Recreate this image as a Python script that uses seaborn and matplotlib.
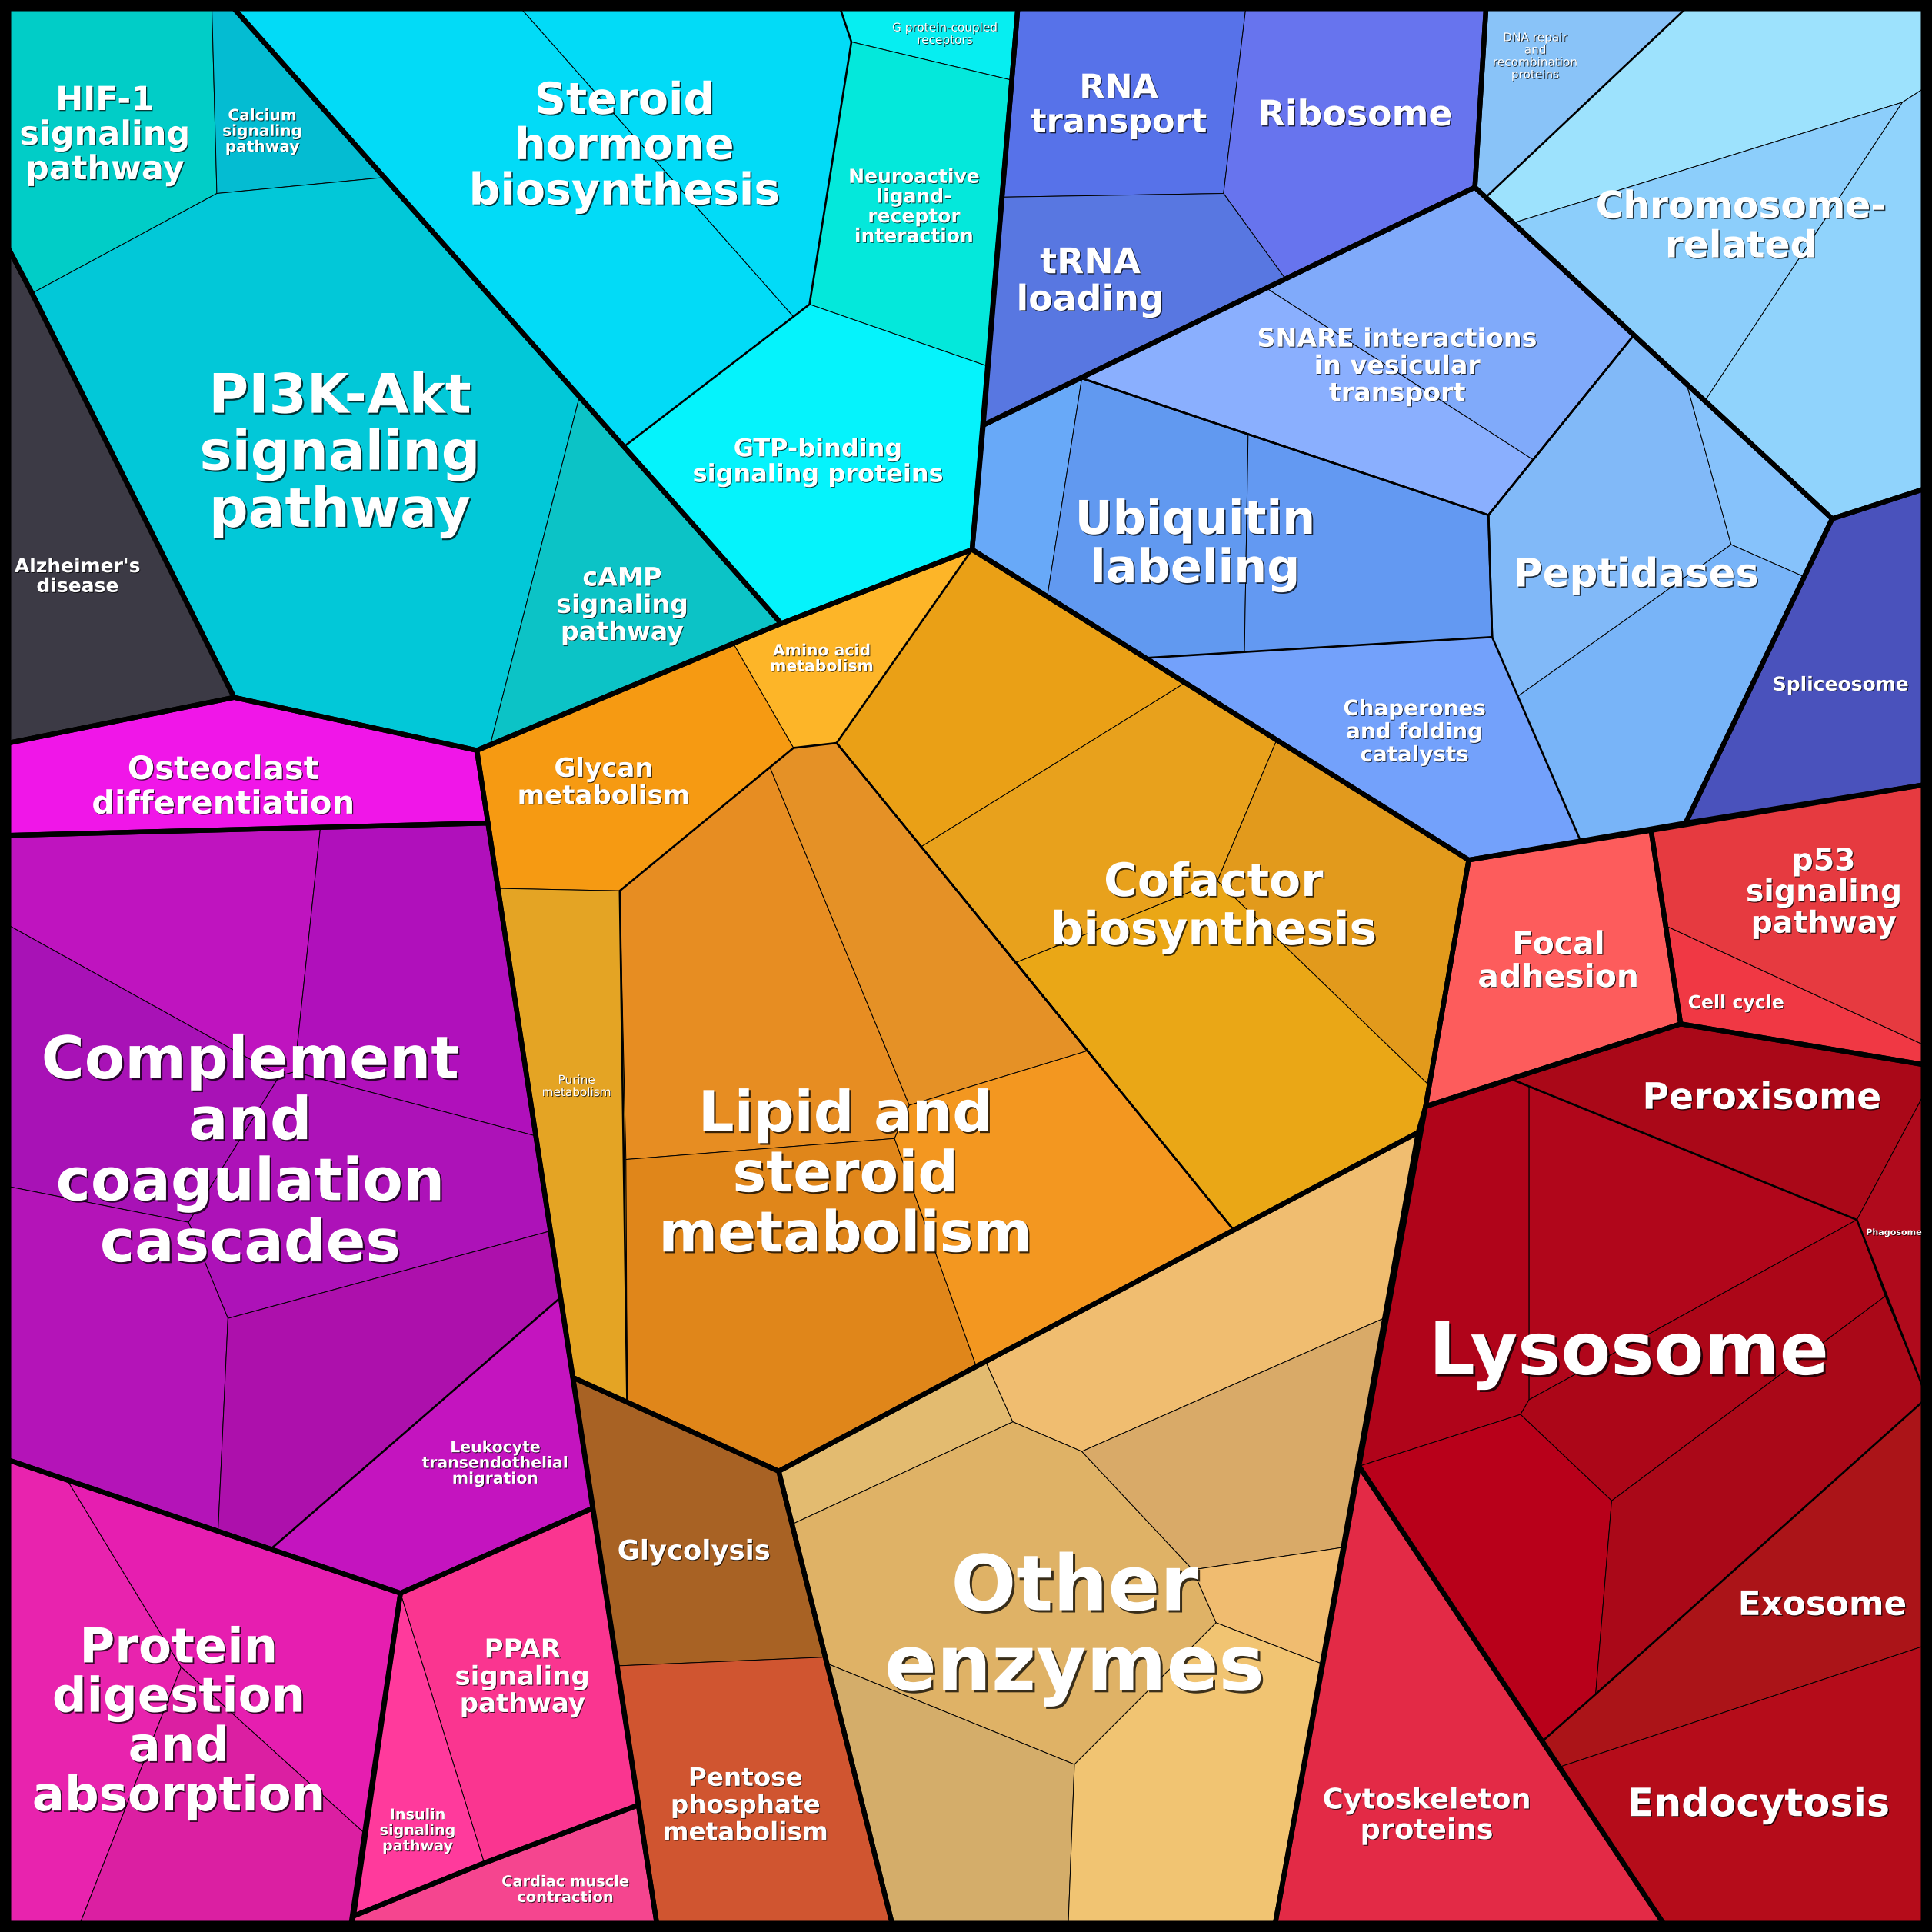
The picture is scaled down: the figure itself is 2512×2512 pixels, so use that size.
import pandas as pd
import seaborn as sns
from matplotlib import pyplot as plt
from matplotlib import patheffects as pe

# corner points of the voronoi cells, in px of a 1568 px square, y pointing down
points = {
    'TL': (7, 7), 'TR': (1561, 7), 'BR': (1561, 1561), 'BL': (7, 1561),
    'A1': (172, 7), 'A2': (190, 7), 'A3': (176, 157), 'A4': (312, 144), 'A5': (7, 202),
    'A6': (26, 238), 'A7': (190, 566), 'A8': (7, 603), 'A9': (387, 609), 'A10': (398, 604),
    'A11': (470, 323), 'A12': (634, 506),
    'S1': (423, 7), 'S2': (682, 7), 'S3': (691, 34), 'S4': (821, 65), 'S5': (657, 247),
    'S6': (801, 297), 'S7': (507, 362), 'S8': (644, 257), 'S9': (826, 7), 'S10': (789, 446),
    'B2': (1011, 7), 'B3': (993, 157), 'B4': (813, 160), 'B5': (1043, 226), 'B6': (1206, 7),
    'B7': (1197, 152), 'B8': (798, 345), 'B9': (1326, 272), 'B10': (1208, 418), 'B12': (878, 307),
    'B13': (929, 534), 'B14': (850, 484), 'B15': (1013, 352), 'B16': (1010, 529), 'B17': (1283, 683),
    'B18': (1487, 421), 'B19': (1368, 668), 'B20': (1211, 517), 'B21': (1192, 698), 'B22': (1368, 7),
    'B23': (1206, 160), 'B24': (1561, 397), 'B25': (1561, 637),
    'N1': (1028, 234), 'N2': (1244, 373),
    'P1': (1369, 312), 'P2': (1405, 442), 'P3': (1464, 468), 'P4': (1232, 565),
    'H1': (1228, 181), 'H2': (1544, 83), 'H3': (1561, 72), 'H4': (1384, 325),
    'O1': (595, 522), 'O2': (644, 607), 'O3': (679, 603), 'O4': (503, 723), 'O5': (404, 721),
    'O6': (509, 1137), 'O7': (465, 1118), 'O8': (632, 1194), 'O9': (1001, 998), 'O10': (1151, 919),
    'O11': (1157, 898),
    'L1': (625, 623), 'L2': (738, 897), 'L3': (882, 853), 'L4': (726, 924), 'L5': (792, 1108),
    'L6': (508, 941),
    'C1': (962, 554), 'C2': (748, 687), 'C3': (1036, 601), 'C4': (988, 715), 'C5': (825, 781),
    'C6': (1160, 881),
    'G1': (501, 1352), 'G2': (669, 1345), 'G3': (724, 1561), 'G4': (533, 1561),
    'E1': (800, 1105), 'E2': (822, 1154), 'E3': (643, 1237), 'E4': (878, 1178), 'E5': (1123, 1070),
    'E6': (968, 1274), 'E7': (1089, 1256), 'E8': (987, 1317), 'E9': (1072, 1350), 'E10': (872, 1432),
    'E11': (867, 1561), 'E12': (671, 1350), 'E13': (1035, 1561),
    'R1': (1103, 1190), 'R2': (1340, 674), 'R3': (1364, 831), 'R4': (1353, 752), 'R5': (1561, 848),
    'R6': (1561, 864), 'R7': (1227, 876), 'R8': (1561, 889), 'R9': (1507, 990), 'R10': (1561, 1127),
    'R11': (1561, 1137), 'R12': (1561, 1336), 'R13': (1266, 1434), 'R14': (1350, 1561),
    'R15': (1252, 1413), 'R16': (1295, 1375),
    'Y1': (1241, 882), 'Y2': (1241, 1136), 'Y3': (1234, 1148), 'Y4': (1308, 1218), 'Y5': (1530, 1052),
    'K1': (396, 668), 'K2': (7, 678), 'K3': (260, 672), 'K4': (239, 870), 'K5': (227, 873),
    'K6': (7, 751), 'K7': (435, 922), 'K8': (153, 992), 'K9': (7, 963), 'K10': (185, 1070),
    'K11': (447, 999), 'K12': (455, 1053), 'K13': (177, 1242), 'K14': (220, 1257), 'K15': (7, 1185),
    'K16': (325, 1293), 'K17': (481, 1224), 'K18': (518, 1465), 'K19': (393, 1512), 'K20': (287, 1555),
    'K21': (285, 1561),
    'D1': (55, 1202), 'D2': (147, 1353), 'D3': (296, 1488), 'D4': (65, 1561),
}

# smallest cells (fill colour + corners)
cell_names = [
    'hif', 'calcium', 'pi3k', 'camp', 'alzheimer',
    'steroid_a', 'steroid_b', 'gpcr', 'neuro', 'gtp',
    'rna', 'ribosome', 'trna', 'dna', 'chrom_a', 'chrom_b', 'chrom_c',
    'snare_a', 'snare_b', 'ubi_a', 'ubi_b', 'ubi_c', 'chaperones',
    'pep_a', 'pep_b', 'pep_c', 'spliceosome',
    'amino', 'glycan', 'purine', 'lipid_a', 'lipid_b', 'lipid_c', 'lipid_d',
    'cof_a', 'cof_b', 'cof_c', 'cof_d',
    'glycolysis', 'pentose', 'oe_a', 'oe_b', 'oe_c', 'oe_d', 'oe_e', 'oe_f', 'oe_g',
    'focal', 'p53', 'cellcycle', 'peroxisome', 'phagosome',
    'lys_a', 'lys_b', 'lys_c', 'lys_d', 'lys_e', 'exosome', 'endocytosis', 'cytoskeleton',
    'osteoclast', 'comp_a', 'comp_b', 'comp_c', 'comp_d', 'comp_e', 'comp_f', 'leukocyte',
    'prot_a', 'prot_b', 'prot_c', 'ppar', 'insulin', 'cardiac',
]
cell_colors = [
    '#01cdc7', '#04bcd2', '#02c8d8', '#0cc3c6', '#3c3a45',
    '#02dbf7', '#02dbf7', '#06eef1', '#04e8db', '#05f3fc',
    '#5772e9', '#6774ee', '#5877e1', '#89c3f8', '#9de2fd', '#8ccefb', '#90d3fc',
    '#80aafa', '#8aaffe', '#68a9f8', '#6199f0', '#6399f2', '#73a1fb',
    '#81b9f8', '#86c2fb', '#78b4f8', '#4a52bc',
    '#fdb528', '#f69a12', '#e4a424', '#e78d22', '#e59126', '#e0861a', '#f39720',
    '#eaa016', '#e8a11c', '#e29a1c', '#eaa716',
    '#a86224', '#d05530', '#e3bb70', '#f0bd70', '#dfb266', '#d9aa68', '#f0bc70', '#d4ad6a', '#f1c472',
    '#fd5c5c', '#e63a40', '#f03844', '#aa0818', '#b00a1c',
    '#b0041a', '#b1061b', '#ac0618', '#b8001a', '#aa0818', '#ab1418', '#b50c1a', '#e32a46',
    '#f016e8', '#bf14bf', '#b010bb', '#a812b6', '#ad12b8', '#b414b8', '#ad10ac', '#c414bf',
    '#e823ae', '#e61eb0', '#db1fa2', '#fa3590', '#ff3a9c', '#f5458f',
]
cell_corners = [
    'TL A1 A3 A6 A5', 'A1 A2 A4 A3', 'A3 A4 A11 A10 A9 A7 A6', 'A11 A12 A10', 'A5 A6 A7 A8',
    'A2 S1 S8 S7', 'S1 S2 S3 S5 S8', 'S2 S9 S4 S3', 'S3 S4 S6 S5', 'S5 S6 S10 A12 S7',
    'S9 B2 B3 B4', 'B2 B6 B7 B5 B3', 'B4 B3 B5 B8', 'B6 B22 B23 B7',
    'B22 TR H3 H2 H1 B23', 'H1 H2 H4 B9', 'H2 H3 B24 B18 H4',
    'N1 B7 B9 N2', 'B12 N1 N2 B10', 'B8 B12 B14 S10', 'B12 B15 B16 B13 B14', 'B15 B10 B20 B16',
    'B13 B20 B17 B21',
    'B10 B9 P1 P2 P4 B20', 'P1 B18 P3 P2', 'P2 P3 B19 B17 P4', 'B18 B24 B25 B19',
    'O1 A12 S10 O3 O2', 'A9 O1 O2 O4 O5', 'O5 O4 L6 O6 O7', 'O4 L1 L2 L4 L6', 'L1 O2 O3 L3 L2',
    'L6 L4 L5 O8 O6', 'L4 L2 L3 O9 L5',
    'S10 C1 C2 O3', 'C1 C3 C4 C5 C2', 'C3 B21 C6 C4', 'C5 C4 C6 O11 O10 O9',
    'O7 O8 G2 G1', 'G1 G2 G3 G4', 'O8 E1 E2 E3', 'E1 O10 E5 E4 E2', 'E3 E2 E4 E6 E8 E10 E12',
    'E4 E5 E7 E6', 'E6 E7 E9 E8', 'E12 E10 E11 G3', 'E10 E8 E9 E13 E11',
    'B21 R2 R3 R7 O11', 'R2 B25 R5 R4', 'R4 R5 R6 R3', 'R7 R3 R6 R8 R9', 'R9 R8 R10',
    'O11 R7 Y1 Y2 Y3 R1', 'Y1 R9 Y2', 'Y2 R9 Y5 Y4 Y3', 'R1 Y3 Y4 R16 R15', 'Y4 Y5 R10 R11 R16',
    'R11 R12 R13 R15 R16', 'R13 R12 BR R14', 'R1 R14 E13',
    'A8 A7 A9 K1 K2', 'K2 K3 K4 K5 K6', 'K3 K1 K7 K4', 'K6 K5 K8 K9', 'K5 K4 K7 K11 K10 K8',
    'K9 K8 K10 K13 K15', 'K10 K11 K12 K14 K13', 'K12 K17 K16 K14',
    'K15 D1 D2 D4 BL', 'D1 K16 D3 D2', 'D2 D3 K20 K21 D4', 'K16 K17 K18 K19', 'K16 K19 K20',
    'K20 K19 K18 G4 K21',
]

# named pathways that are split into several cells (medium outline)
pathway_outlines = [
    'A2 S2 S3 S5 S8 S7',
    'B22 TR B24 B18 B9 B23',
    'B12 B7 B9 B10',
    'B8 B12 B10 B20 B13 B14 S10',
    'B10 B9 B18 B19 B17 B20',
    'O4 O2 O3 O9 O8 O6',
    'S10 B21 O11 O10 O9 O3',
    'O8 O10 E13 G3',
    'O11 R7 R9 R10 R11 R16 R15 R1',
    'K2 K1 K12 K14 K15',
    'K15 K16 K21 BL',
]

# top level groups (thick outline)
group_outlines = [
    'TL A2 A12 A9 A7 A6 A5', 'A5 A6 A7 A8', 'A2 S9 S10 A12', 'A8 A7 A9 K1 K2',
    'K2 K1 K17 K16 K15', 'K15 K16 K21 BL', 'K16 K17 K18 K19 K20', 'K20 K19 K18 G4 K21',
    'A9 A12 S10 B21 O11 O10 O8 O7', 'O7 O8 G3 G4', 'O8 O10 E13 G3',
    'S9 B6 B7 B8', 'B6 TR B24 B18 B9 B7', 'B8 B7 B9 B18 B19 B21 S10', 'B18 B24 B25 B19',
    'B21 R2 R3 O11', 'R2 B25 R6 R3', 'O11 R3 R6 BR R14 R1', 'R1 R14 E13', 'TL TR BR BL',
]

label_text = [
    'HIF-1\nsignaling\npathway', 'Calcium\nsignaling\npathway', 'PI3K-Akt\nsignaling\npathway',
    "Alzheimer's\ndisease", 'cAMP\nsignaling\npathway', 'Steroid\nhormone\nbiosynthesis',
    'G protein-coupled\nreceptors', 'Neuroactive\nligand-\nreceptor\ninteraction',
    'GTP-binding\nsignaling proteins', 'RNA\ntransport', 'Ribosome', 'tRNA\nloading',
    'SNARE interactions\nin vesicular\ntransport', 'Ubiquitin\nlabeling', 'Peptidases',
    'Chromosome-\nrelated', 'DNA repair\nand\nrecombination\nproteins',
    'Chaperones\nand folding\ncatalysts', 'Spliceosome', 'Amino acid\nmetabolism',
    'Glycan\nmetabolism', 'Purine\nmetabolism', 'Lipid and\nsteroid\nmetabolism',
    'Cofactor\nbiosynthesis', 'Osteoclast\ndifferentiation',
    'Complement\nand\ncoagulation\ncascades', 'Leukocyte\ntransendothelial\nmigration',
    'Protein\ndigestion\nand\nabsorption', 'PPAR\nsignaling\npathway',
    'Insulin\nsignaling\npathway', 'Cardiac muscle\ncontraction', 'Glycolysis',
    'Pentose\nphosphate\nmetabolism', 'Other\nenzymes', 'Focal\nadhesion',
    'p53\nsignaling\npathway', 'Cell cycle', 'Peroxisome', 'Phagosome', 'Lysosome',
    'Exosome', 'Endocytosis', 'Cytoskeleton\nproteins',
]
label_x = [85, 213, 276, 63, 505, 507, 767, 742, 664, 908, 1100, 885, 1134, 970, 1328,
           1413, 1246, 1148, 1494, 667, 490, 468, 686, 985, 181, 203, 402, 145, 424,
           339, 459, 563, 605, 872, 1265, 1480, 1409, 1430, 1537, 1322, 1479, 1427, 1158]
label_y = [108, 106, 366, 467, 490, 117, 27, 167, 374, 84, 92, 227, 296, 440, 465,
           182, 45, 593, 555, 534, 634, 881, 951, 734, 637, 933, 1187, 1396, 1360,
           1485, 1533, 1258, 1464, 1318, 779, 723, 813, 890, 1000, 1095, 1301, 1463, 1472]
label_size = [31, 14.5, 51, 18, 24, 41, 11, 18, 23, 31, 33, 33, 24, 43.5, 37,
              35, 11, 20, 18, 14.7, 24.5, 11, 53, 43, 30, 55, 14.7, 45, 24.5,
              13.8, 14, 25.5, 23.5, 72, 29.5, 28.4, 17, 34, 8, 68, 31.5, 36.5, 26.5]
regular_labels = ['G protein-coupled\nreceptors', 'DNA repair\nand\nrecombination\nproteins',
                  'Purine\nmetabolism']

cells = pd.DataFrame({'name': cell_names, 'color': cell_colors, 'corners': cell_corners})
labels = pd.DataFrame({'text': label_text, 'x': label_x, 'y': label_y, 'size': label_size})


def corner_xy(corners):
    xy = [points[p] for p in corners.split()]
    return [p[0] for p in xy], [p[1] for p in xy]


sns.set_theme(style='white')
plt.rcParams['font.family'] = ['DejaVu Sans']

fig = plt.figure(figsize=(25.12, 25.12), dpi=100)
fig.patch.set_facecolor('black')
ax = fig.add_axes([0, 0, 1, 1])
ax.set_facecolor('black')

for _, row in cells.iterrows():
    xs, ys = corner_xy(row['corners'])
    ax.fill(xs, ys, facecolor=row['color'], edgecolor='black', linewidth=0.7,
            joinstyle='round', zorder=1)

for corners in pathway_outlines:
    xs, ys = corner_xy(corners)
    ax.fill(xs, ys, facecolor='none', edgecolor='black', linewidth=1.9,
            joinstyle='round', zorder=2)

for corners in group_outlines:
    xs, ys = corner_xy(corners)
    ax.fill(xs, ys, facecolor='none', edgecolor='black', linewidth=4.6,
            joinstyle='round', zorder=3)

for _, row in labels.iterrows():
    shift = max(0.7, row['size'] * 0.03)
    weight = 'normal' if row['text'] in regular_labels else 'bold'
    # va='center' counts the descender, so nudge the block down a little
    ax.text(row['x'], row['y'] + row['size'] * 0.06, row['text'], ha='center', va='center',
            fontsize=row['size'], fontweight=weight, color='white', linespacing=1.09,
            zorder=5,
            path_effects=[pe.withSimplePatchShadow(offset=(shift, -shift),
                                                   shadow_rgbFace='black', alpha=0.75)])

ax.set_xlim(0, 1568)
ax.set_ylim(1568, 0)
ax.axis('off')

fig.savefig('out.png', dpi=100, facecolor='black')
